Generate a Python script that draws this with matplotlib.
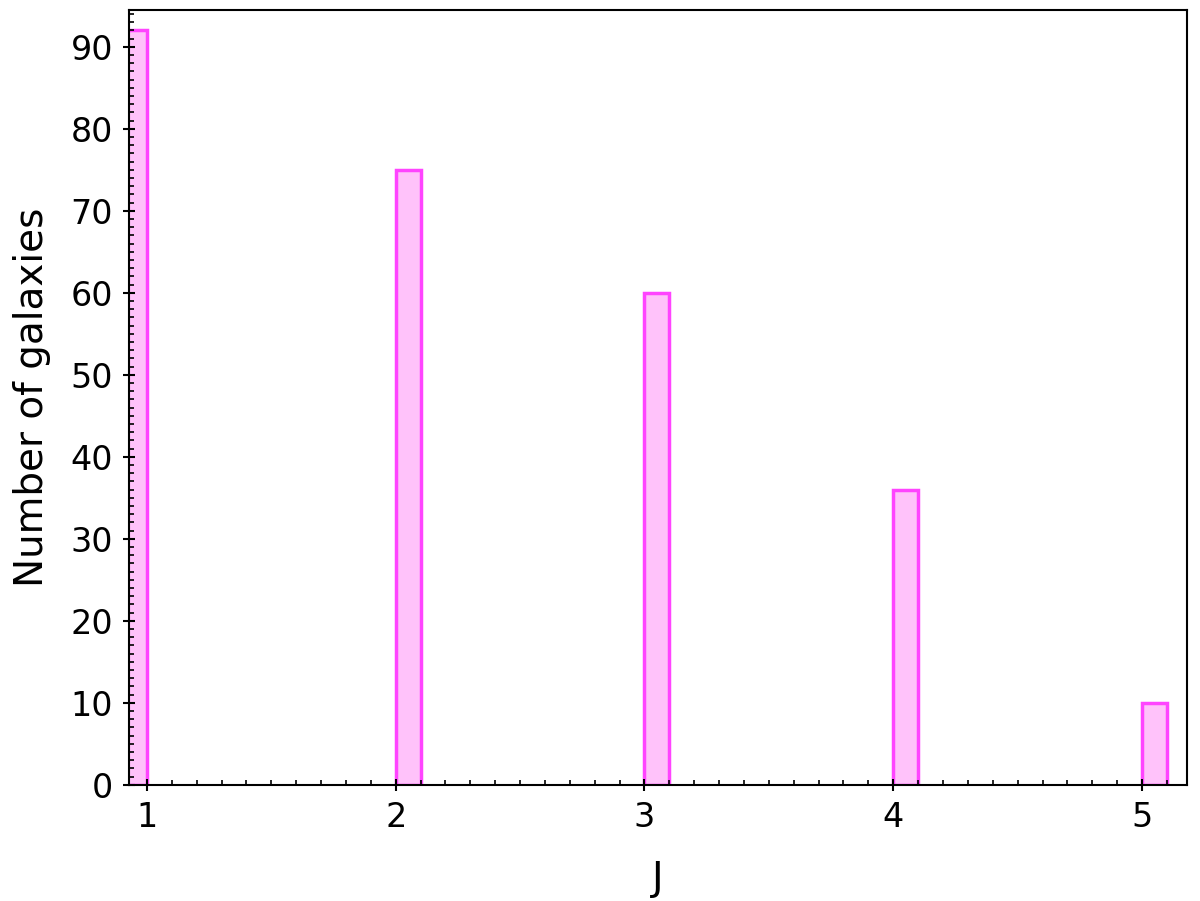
import matplotlib.pyplot as plt
from matplotlib.ticker import MultipleLocator

j_values = [1, 2, 3, 4, 5]
counts = [92, 75, 60, 36, 10]
bin_left = [0.9, 2.0, 3.0, 4.0, 5.0]

fig = plt.figure(figsize=(12, 9.01), dpi=100)
ax = fig.add_axes([0.1075, 0.129, 0.8815, 0.86])

ax.bar(bin_left, counts, width=0.1, align='edge',
       facecolor='#ffc2fa', edgecolor='#ff44ff', linewidth=2.5)

ax.set_xlim(0.928, 5.18)
ax.set_ylim(0, 94.5)
ax.set_xticks(j_values)
ax.xaxis.set_minor_locator(MultipleLocator(0.1))
ax.yaxis.set_major_locator(MultipleLocator(10))
ax.yaxis.set_minor_locator(MultipleLocator(1))
ax.tick_params(which='major', direction='inout', length=9, width=1.5,
               labelsize=24, pad=7)
ax.tick_params(which='minor', direction='in', length=3.5, width=1.2)
for s in ax.spines.values():
    s.set_linewidth(1.5)

# reference clips the J at the bottom edge; keep it just inside
ax.set_xlabel('J', fontsize=28, labelpad=19)
ax.set_ylabel('Number of galaxies', fontsize=28, labelpad=14)

plt.savefig('out.png', dpi=100)
